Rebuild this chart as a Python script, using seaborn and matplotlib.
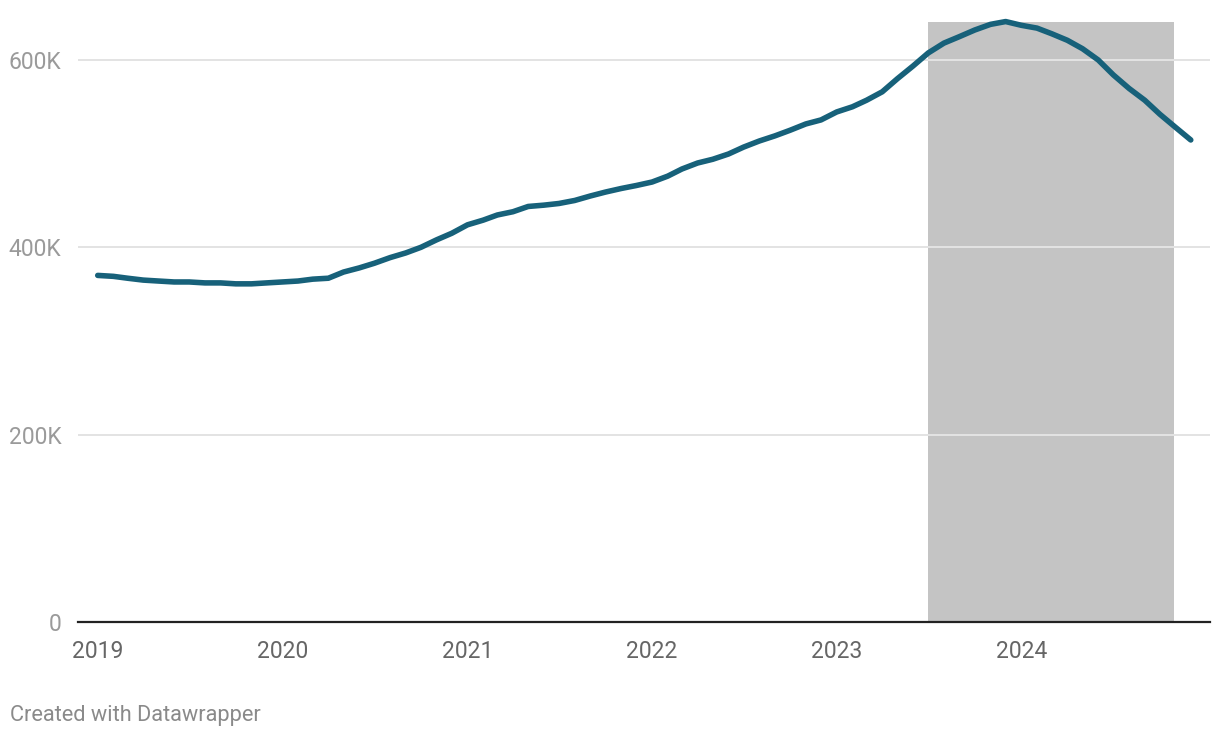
import pandas as pd
import numpy as np
import seaborn as sns
import matplotlib.pyplot as plt
import matplotlib.dates as mdates

# monthly values (thousands), Jan 2019 - Dec 2024
months = pd.date_range('2019-01-01', '2024-12-01', freq='MS')
values = [370, 369, 367, 365, 364, 363, 363, 362, 362, 361, 361, 362,
          363, 364, 366, 367, 373.6, 378, 383, 389, 394, 400, 408, 415,
          424, 429, 434.5, 438, 443.6, 445, 446.8, 450, 454.8, 459, 462.8, 466,
          469.7, 476, 483.6, 490, 494, 499.6, 507, 513.5, 519, 525, 531.7, 536,
          544.5, 550, 557, 566, 580, 593.6, 607.5, 618, 625, 632, 638, 641,
          637, 634, 628, 621, 612, 600, 584, 569.6, 557, 542, 528, 514.6]
shade_start = '2023-07-01'
shade_end = '2024-10-28'
year_ticks = ['2019', '2020', '2021', '2022', '2023', '2024']
y_ticks = [0, 200, 400, 600]
y_labels = ['0', '200K', '400K', '600K']

df = pd.DataFrame({'month': months, 'value': values})

sns.set_theme(style='white')
plt.rcParams['font.family'] = ['Roboto', 'DejaVu Sans']

fig = plt.figure(figsize=(12.2, 7.38), dpi=100)
ax = fig.add_axes([78 / 1220, (738 - 622) / 738, (1210 - 78) / 1220, 607 / 738])

# shaded period
ax.fill_between(pd.to_datetime([shade_start, shade_end]), 0, max(values),
                color='#c4c4c4', linewidth=0, zorder=1)

sns.lineplot(data=df, x='month', y='value', ax=ax, color='#17617a',
             linewidth=4.0, zorder=3)
ax.lines[-1].set_solid_capstyle('round')
ax.lines[-1].set_solid_joinstyle('round')

ax.set_xlim(pd.Timestamp('2018-11-23'), pd.Timestamp('2025-01-08'))
ax.set_ylim(0, 648)

ax.set_yticks(y_ticks)
ax.set_yticklabels(y_labels)
ax.set_xticks(pd.to_datetime([y + '-01-01' for y in year_ticks]))
ax.set_xticklabels(year_ticks)

ax.set_axisbelow('line')
ax.grid(axis='y', color='#e3e3e3', linewidth=1.4, zorder=2)
ax.grid(axis='x', visible=False)

for s in ['top', 'right', 'left']:
    ax.spines[s].set_visible(False)
ax.spines['bottom'].set_color('#222222')
ax.spines['bottom'].set_linewidth(1.6)
ax.spines['bottom'].set_zorder(4)

ax.tick_params(axis='y', length=0, pad=12, labelsize=16.5, labelcolor='#9a9a9a')
ax.tick_params(axis='x', length=0, pad=13, labelsize=16.5, labelcolor='#666666')
ax.set_xlabel('')
ax.set_ylabel('')

fig.text(10 / 1220, 1 - 715 / 738, 'Created with Datawrapper', fontsize=15.7,
         color='#8a8a8a', ha='left', va='center')

fig.savefig('out.png', dpi=100, facecolor='white')
